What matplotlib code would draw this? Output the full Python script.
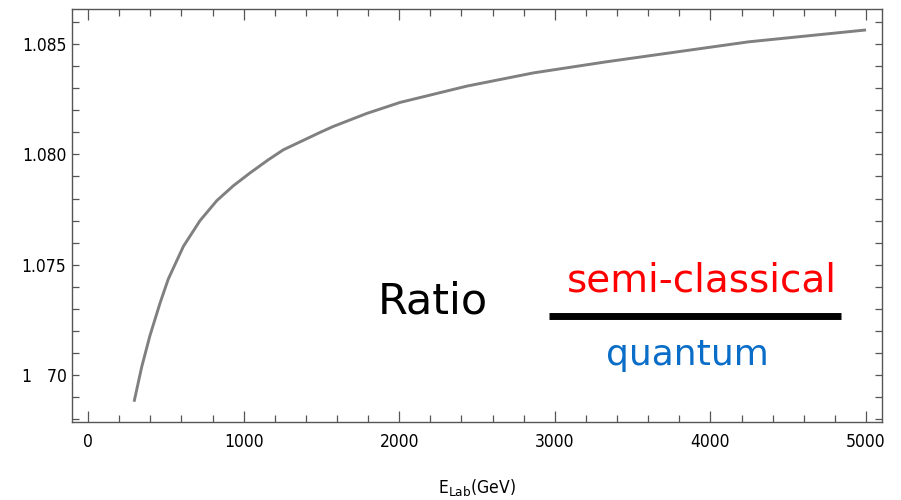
import matplotlib
matplotlib.use('Agg')
import matplotlib.pyplot as plt
from matplotlib.ticker import MultipleLocator, FixedLocator

# values
e_lab = [296, 345, 398, 463, 516, 613, 720, 827, 934, 1041, 1159, 1255,
         1491, 1576, 1791, 2005, 2434, 2862, 3327, 4245, 5000]
ratio = [1.06878, 1.07036, 1.07178, 1.07326, 1.07435, 1.07583, 1.07700,
         1.07790, 1.07858, 1.07916, 1.07976, 1.08021, 1.08100, 1.08127,
         1.08186, 1.08236, 1.08310, 1.08370, 1.08420, 1.08511, 1.08565]

x_ticks = [0, 1000, 2000, 3000, 4000, 5000]
x_tick_labels = ['0', '1000', '2000', '3000', '4000', '5000']
y_ticks = [1.070, 1.075, 1.080, 1.085]
y_tick_labels = ['1   70', '1.075', '1.080', '1.085']

TICK_FONT = dict(family='DejaVu Sans', stretch='condensed', size=12.5)

fig = plt.figure(figsize=(9.01, 5.0), dpi=100)
ax = fig.add_axes([0.0799, 0.156, 0.8991, 0.826])

ax.plot(e_lab, ratio, color='#808080', lw=2.1, solid_capstyle='butt',
        solid_joinstyle='round')

ax.set_xlim(-103, 5103)
ax.set_ylim(1.06786, 1.0866)

ax.xaxis.set_major_locator(FixedLocator(x_ticks))
ax.xaxis.set_minor_locator(MultipleLocator(200))
ax.yaxis.set_major_locator(FixedLocator(y_ticks))
ax.yaxis.set_minor_locator(MultipleLocator(0.001))
ax.set_xticklabels(x_tick_labels, fontdict=TICK_FONT)
ax.set_yticklabels(y_tick_labels, fontdict=TICK_FONT)

ax.tick_params(which='both', direction='in', top=True, right=True,
               color='#555555', width=0.9, labelcolor='black')
ax.tick_params(axis='x', which='major', length=8, pad=8)
ax.tick_params(axis='x', which='minor', length=5)
ax.tick_params(axis='y', which='major', length=5, pad=4)
ax.tick_params(axis='y', which='minor', length=5)

for sp in ax.spines.values():
    sp.set_color('#555555')
    sp.set_linewidth(1.0)

ax.set_xlabel(r'E$_{\mathrm{Lab}}$(GeV)', fontsize=12.5,
              fontstretch='condensed', labelpad=19)

# the ratio legend drawn as text
fig.text(0.4195, 0.396, 'Ratio', fontsize=31, color='black', ha='left', va='center')
fig.text(0.779, 0.438, 'semi-classical', fontsize=28, color='#ff0000',
         ha='center', va='center')
fig.text(0.7625, 0.29, 'quantum', fontsize=26, color='#0a6ec8',
         ha='center', va='center')
fig.add_artist(plt.Line2D([0.6093, 0.9334], [0.368, 0.368], color='black',
                          lw=5.0, solid_capstyle='butt',
                          transform=fig.transFigure))

fig.savefig('out.png', dpi=100)
